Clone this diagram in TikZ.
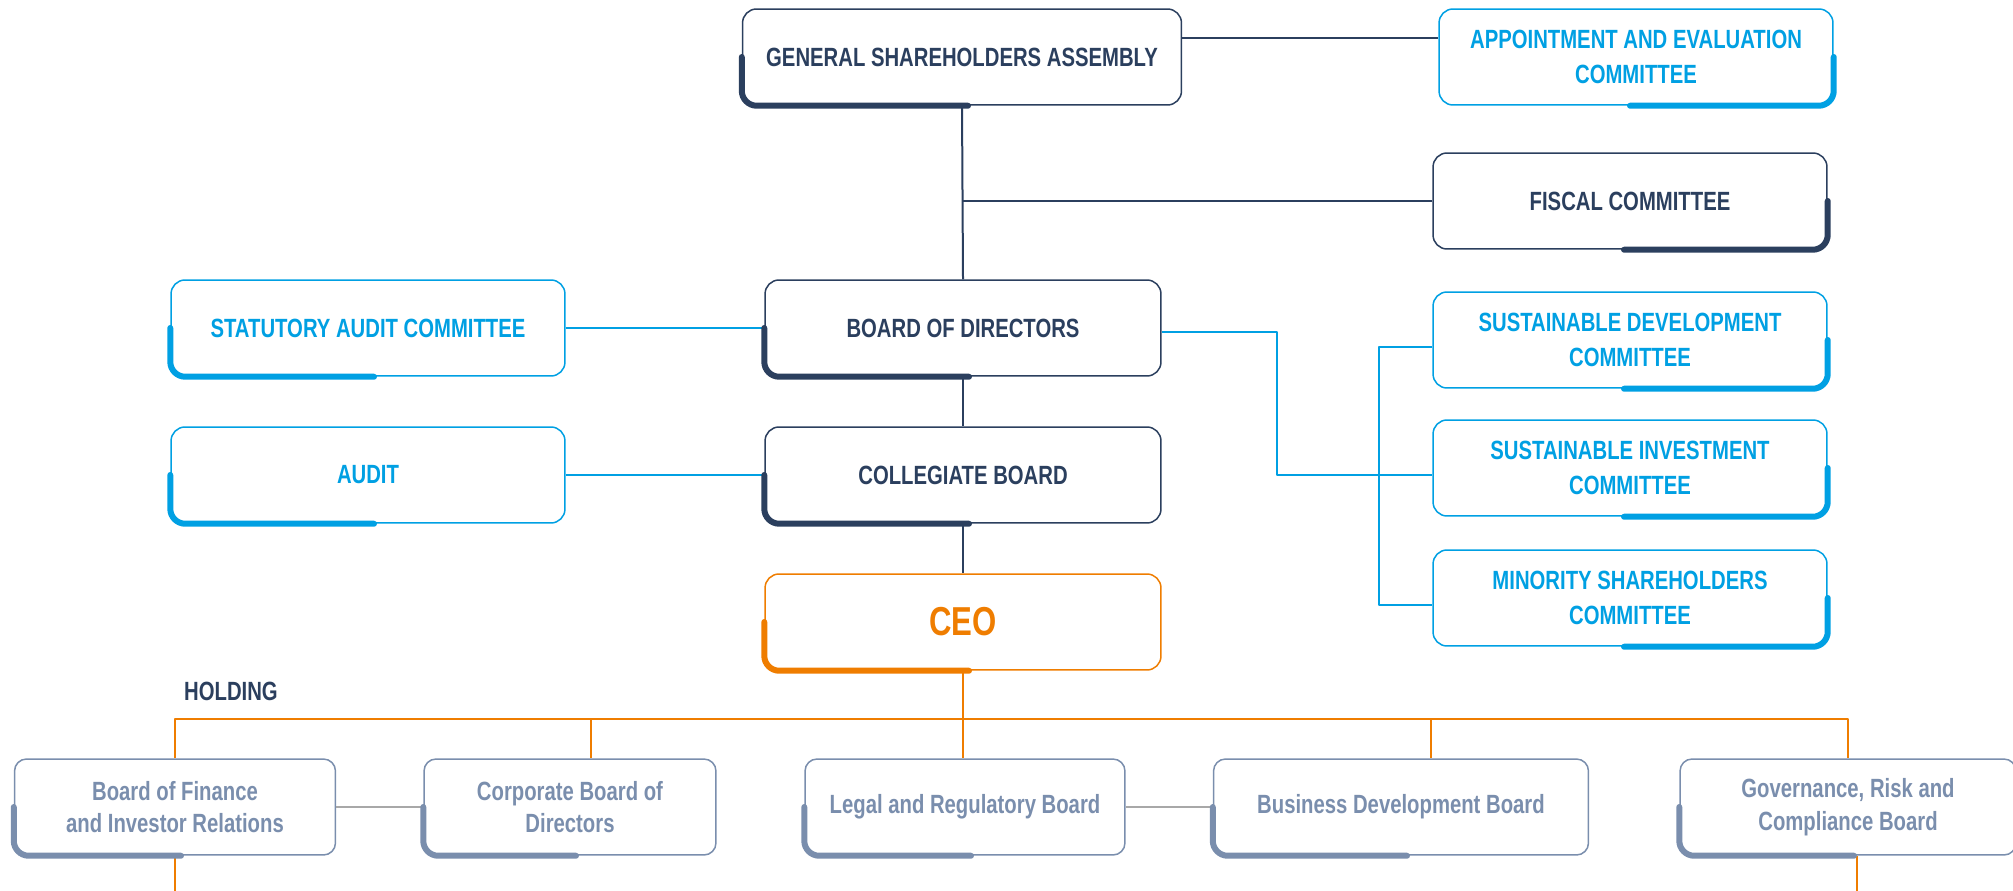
\documentclass[tikz,border=0pt]{standalone}
\usepackage{fontspec}
\setmainfont{Liberation Sans}[FakeStretch=0.77]

\definecolor{navy}{HTML}{2B3F5E}
\definecolor{sky}{HTML}{00A0E3}
\definecolor{tangerine}{HTML}{EF7D00}
\definecolor{slate}{HTML}{7A8EAD}
\definecolor{linkgray}{HTML}{A8A8A8}

\newcommand{\boxfont}{\fontsize{15}{19.5}\selectfont\bfseries}
\newcommand{\unitfont}{\fontsize{15}{18.5}\selectfont\bfseries}
\newcommand{\ceofont}{\fontsize{23}{25}\selectfont\bfseries}

% thick mark along the lower left / lower right part of a box
\newcommand{\boxmarkleft}[2]{\draw[accent, #2] (#1.west) |- ([xshift=0.12cm]#1.south);}
\newcommand{\boxmarkright}[2]{\draw[accent, #2] (#1.east) |- ([xshift=-0.12cm]#1.south);}

\begin{document}
\begin{tikzpicture}[x=0.02cm, y=-0.02cm, line join=round,
  box/.style={draw, fill=white, rounded corners=0.28cm, line width=0.03cm,
    align=center, inner sep=0pt, minimum width=7.88cm, minimum height=1.92cm, font=\boxfont},
  navybox/.style={box, draw=navy, text=navy},
  bluebox/.style={box, draw=sky, text=sky},
  orangebox/.style={box, draw=tangerine, text=tangerine, font=\ceofont},
  unitbox/.style={box, draw=slate, text=slate, font=\unitfont, rounded corners=0.24cm},
  accent/.style={line width=0.12cm, line cap=round, rounded corners=0.3cm},
  link/.style={line width=0.04cm}]

\useasboundingbox (0,0) rectangle (2013,891);

\coordinate (bend) at (1277,0);
\coordinate (bus) at (0,719);

% governance
\node[navybox, minimum width=8.78cm] (gsa) at (962,57) {GENERAL SHAREHOLDERS ASSEMBLY};
\node[bluebox] (appoint) at (1636,57) {APPOINTMENT AND EVALUATION\\COMMITTEE};
\node[navybox] (fiscal) at (1630,201) {FISCAL COMMITTEE};
\node[bluebox] (statutory) at (368,328) {STATUTORY AUDIT COMMITTEE};
\node[navybox, minimum width=7.92cm] (board) at (963,328) {BOARD OF DIRECTORS};
\node[bluebox] (audit) at (368,475) {AUDIT};
\node[navybox, minimum width=7.92cm] (collegiate) at (963,475) {COLLEGIATE BOARD};
\node[orangebox, minimum width=7.92cm] (ceo) at (963,622) {CEO};

\node[bluebox] (sustdev) at (1630,340) {SUSTAINABLE DEVELOPMENT\\COMMITTEE};
\node[bluebox] (sustinv) at (1630,468) {SUSTAINABLE INVESTMENT\\COMMITTEE};
\node[bluebox] (minority) at (1630,598) {MINORITY SHAREHOLDERS\\COMMITTEE};

% holding boards
\node[anchor=west, text=navy, font=\boxfont] (holding) at (178,691) {HOLDING};
\node[unitbox, minimum width=6.42cm] (finance) at (175,807) {Board of Finance\\and Investor Relations};
\node[unitbox, minimum width=5.84cm] (corporate) at (570,807) {Corporate Board of\\Directors};
\node[unitbox, minimum width=6.4cm] (legal) at (965,807) {Legal and Regulatory Board};
\node[unitbox, minimum width=7.5cm] (bizdev) at (1401,807) {Business Development Board};
\node[unitbox, minimum width=6.72cm] (governance) at (1848,807) {Governance, Risk and\\Compliance Board};

% lines
\draw[link, navy] (gsa.south) -- (board.north);
\draw[link, navy] ([yshift=0.38cm]gsa.east) -- ([yshift=0.38cm]appoint.west);
\draw[link, navy] (gsa.south |- fiscal.west) -- (fiscal.west);
\draw[link, navy] (board.south) -- (collegiate.north);
\draw[link, navy] (collegiate.south) -- (ceo.north);

\draw[link, sky, line width=0.035cm] (statutory.east) -- (board.west);
\draw[link, sky, line width=0.035cm] (audit.east) -- (collegiate.west);
\draw[link, sky, line width=0.035cm] ([yshift=-0.08cm]board.east) -| ([yshift=-0.14cm]bend |- sustinv.west) -- ([yshift=-0.14cm]sustinv.west);
\draw[link, sky, line width=0.035cm] ([yshift=-0.14cm]sustdev.west) -- ++(-53,0) |- ([yshift=-0.14cm]minority.west);

\draw[link, tangerine, line width=0.05cm] (finance.north) |- (bus -| governance.north) -- (governance.north);
\draw[link, tangerine, line width=0.05cm] (ceo.south) -- (ceo.south |- legal.north);
\draw[link, tangerine, line width=0.05cm] ([xshift=0.42cm]corporate.north) -- ([xshift=0.42cm]corporate.north |- bus);
\draw[link, tangerine, line width=0.05cm] ([xshift=0.6cm]bizdev.north) -- ([xshift=0.6cm]bizdev.north |- bus);
\draw[link, tangerine, line width=0.05cm] (finance.south) -- ++(0,50);
\draw[link, tangerine, line width=0.05cm] ([xshift=0.18cm]governance.south) -- ++(0,50);

\draw[link, linkgray] (finance.east) -- (corporate.west);
\draw[link, linkgray] (legal.east) -- (bizdev.west);

% marks
\foreach \n in {gsa, board, collegiate} \boxmarkleft{\n}{navy};
\foreach \n in {statutory, audit} \boxmarkleft{\n}{sky};
\boxmarkleft{ceo}{tangerine}
\boxmarkright{fiscal}{navy}
\foreach \n in {appoint, sustdev, sustinv, minority} \boxmarkright{\n}{sky};
\foreach \n in {finance, corporate, legal, bizdev, governance} \boxmarkleft{\n}{slate};

\end{tikzpicture}
\end{document}
